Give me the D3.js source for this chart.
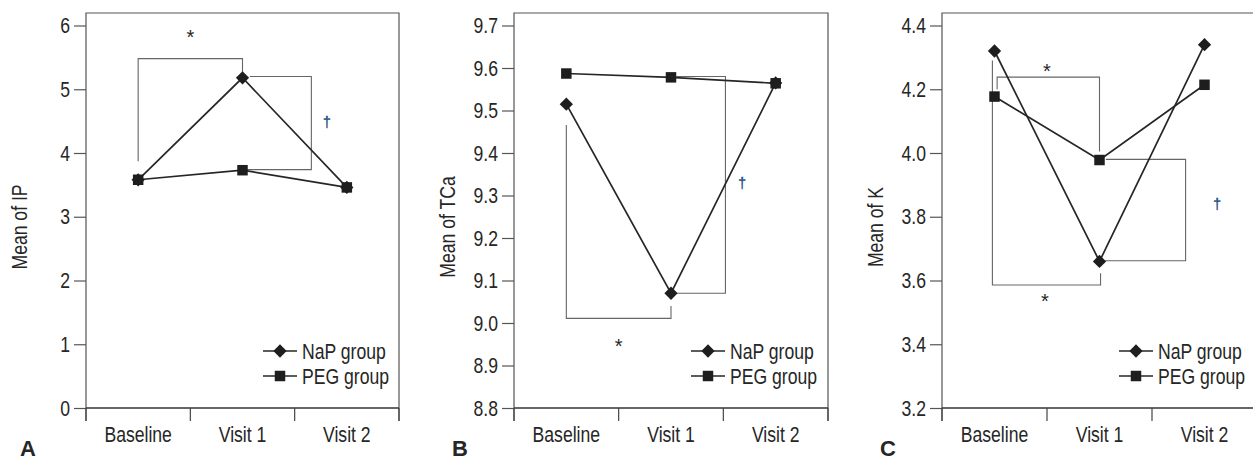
<!DOCTYPE html>
<html>
<head>
<meta charset="utf-8">
<script src="https://cdn.jsdelivr.net/npm/d3@7"></script>
<style>
  body { margin: 0; background: #fff; }
  svg { display: block; }
  text { font-family: "Liberation Sans", Arial, sans-serif; fill: #262626; }
</style>
</head>
<body>
<svg id="chart" width="1253" height="461"></svg>
<script>
// categories shared by the three panels
const visits = ["Baseline", "Visit 1", "Visit 2"];
const groups = ["NaP group", "PEG group"];

// panel A - inorganic phosphorus
const ipNaP = [3.58, 5.18, 3.46];
const ipPEG = [3.58, 3.73, 3.46];
const ipTicks = [0, 1, 2, 3, 4, 5, 6];

// panel B - total calcium
const tcaNaP = [9.515, 9.07, 9.565];
const tcaPEG = [9.587, 9.578, 9.564];
const tcaTicks = [8.8, 8.9, 9.0, 9.1, 9.2, 9.3, 9.4, 9.5, 9.6, 9.7];

// panel C - potassium
const kNaP = [4.32, 3.66, 4.34];
const kPEG = [4.177, 3.978, 4.214];
const kTicks = [3.2, 3.4, 3.6, 3.8, 4.0, 4.2, 4.4];

// significance brackets, [visit index, value]
const ipBrackets = [
  { pts: [[0, 3.87], [0, 5.48], [1, 5.48], [1, 5.24]], mark: "*", at: [0.5, 5.88] },
  { pts: [[1.07, 5.2], [1.66, 5.2], [1.66, 3.74], [1.03, 3.74]], mark: "\u2020", at: [1.81, 4.48] }
];
const tcaBrackets = [
  { pts: [[0, 9.466], [0, 9.011], [1, 9.011], [1, 9.04]], mark: "*", at: [0.5, 8.956] },
  { pts: [[1.05, 9.58], [1.52, 9.58], [1.52, 9.07], [1.05, 9.07]], mark: "\u2020", at: [1.68, 9.33] }
];
const kBrackets = [
  { pts: [[0.025, 4.2], [0.025, 4.238], [1, 4.238], [1, 4.005]], mark: "*", at: [0.5, 4.271] },
  { pts: [[-0.02, 4.29], [-0.02, 3.586], [1.01, 3.586], [1.01, 3.623]], mark: "*", at: [0.48, 3.549] },
  { pts: [[1.06, 3.98], [1.82, 3.98], [1.82, 3.662], [1.05, 3.662]], mark: "\u2020", at: [2.12, 3.84] }
];

const panels = [
  { left: 86, right: 399, letter: "A", title: "Mean of IP", domain: [0, 6], ticks: ipTicks, fmt: d3.format("d"),
    nap: ipNaP, peg: ipPEG, brackets: ipBrackets },
  { left: 514, right: 828, letter: "B", title: "Mean of TCa", domain: [8.8, 9.7], ticks: tcaTicks, fmt: d3.format(".1f"),
    nap: tcaNaP, peg: tcaPEG, brackets: tcaBrackets },
  { left: 942, right: 1257, letter: "C", title: "Mean of K", domain: [3.2, 4.4], ticks: kTicks, fmt: d3.format(".1f"),
    nap: kNaP, peg: kPEG, brackets: kBrackets }
];

const frameTop = 13, frameBottom = 408, yTop = 25.5;
const narrow = 0.8; // condensed look, no narrow face installed
const fs = 22;
const svg = d3.select("#chart");
const diamond = d3.symbol().type(d3.symbolDiamond2).size(112);
const square = d3.symbol().type(d3.symbolSquare).size(110);

// text squeezed horizontally so it reads like the condensed face in the figure
function label(parent, x, y, str, size, anchor, rot) {
  return parent.append("text")
    .attr("transform", `translate(${x},${y})${rot ? ` rotate(${rot})` : ""} scale(${narrow},1)`)
    .attr("text-anchor", anchor || "start")
    .attr("font-size", size)
    .text(str);
}

panels.forEach(p => {
  const g = svg.append("g");
  const x = d3.scaleLinear().domain([-0.5, 2.5]).range([p.left, p.right]);
  const y = d3.scaleLinear().domain(p.domain).range([frameBottom, yTop]);

  // frame
  g.append("path")
    .attr("d", `M${p.left},${frameBottom + 13}V${frameTop}H${p.right}V${frameBottom + 13}`)
    .attr("fill", "none").attr("stroke", "#555").attr("stroke-width", 1.2);

  // y axis
  const ya = g.append("g")
    .attr("transform", `translate(${p.left},0)`)
    .call(d3.axisLeft(y).tickValues(p.ticks).tickFormat(p.fmt).tickSize(12).tickPadding(4));
  ya.select(".domain").remove();
  ya.selectAll("line").attr("stroke", "#555").attr("stroke-width", 1.2);
  ya.selectAll("text")
    .attr("font-size", fs).attr("fill", "#262626")
    .style("font-family", "'Liberation Sans', Arial, sans-serif")
    .attr("x", -16 / narrow).attr("transform", `scale(${narrow},1)`);

  // x axis: ticks at band edges, labels at band centres
  g.append("line").attr("x1", p.left).attr("x2", p.right).attr("y1", frameBottom).attr("y2", frameBottom)
    .attr("stroke", "#333").attr("stroke-width", 1.4);
  g.selectAll(".xt").data(d3.range(visits.length + 1)).join("line")
    .attr("x1", d => x(d - 0.5)).attr("x2", d => x(d - 0.5))
    .attr("y1", frameBottom).attr("y2", frameBottom + 13)
    .attr("stroke", "#444").attr("stroke-width", 1.2);
  visits.forEach((v, i) => label(g, x(i), 442, v, fs, "middle"));

  // axis title and panel letter
  label(g, p.left - 59, 227, p.title, fs, "middle", -90);
  g.append("text").attr("x", p.left - 66 + (p.letter === "A" ? 0 : 4)).attr("y", 456)
    .attr("font-size", 22).attr("font-weight", "bold").attr("fill", "#111").text(p.letter);

  // brackets
  p.brackets.forEach(b => {
    g.append("path")
      .attr("d", d3.line().x(d => x(d[0])).y(d => y(d[1]))(b.pts))
      .attr("fill", "none").attr("stroke", "#666").attr("stroke-width", 1.1);
    const isStar = b.mark === "*";
    g.append("text")
      .attr("x", x(b.at[0])).attr("y", y(b.at[1]) + (isStar ? 11 : 5))
      .attr("text-anchor", "middle")
      .attr("font-size", isStar ? 20 : 14)
      .attr("fill", isStar ? "#333" : "#2b6cb5")
      .attr("stroke", isStar ? "none" : "#2b6cb5").attr("stroke-width", 0.4)
      .text(b.mark);
  });

  // series
  const line = d3.line().x((d, i) => x(i)).y(d => y(d));
  [p.peg, p.nap].forEach(vals => {
    g.append("path").attr("d", line(vals))
      .attr("fill", "none").attr("stroke", "#262626").attr("stroke-width", 1.7);
  });
  g.selectAll(".peg").data(p.peg).join("path")
    .attr("transform", (d, i) => `translate(${x(i)},${y(d)})`)
    .attr("d", square).attr("fill", "#1e1e1e");
  g.selectAll(".nap").data(p.nap).join("path")
    .attr("transform", (d, i) => `translate(${x(i)},${y(d)})`)
    .attr("d", diamond).attr("fill", "#1e1e1e");

  // legend
  const leg = g.append("g");
  groups.forEach((name, i) => {
    const ly = 351 + i * 25;
    leg.append("line").attr("x1", p.left + 177).attr("x2", p.left + 211).attr("y1", ly).attr("y2", ly)
      .attr("stroke", "#262626").attr("stroke-width", 1.6);
    leg.append("path").attr("transform", `translate(${p.left + 194},${ly})`)
      .attr("d", i === 0 ? diamond : square).attr("fill", "#1e1e1e");
    label(leg, p.left + 216, ly + 8, name, fs);
  });
});
</script>
</body>
</html>
